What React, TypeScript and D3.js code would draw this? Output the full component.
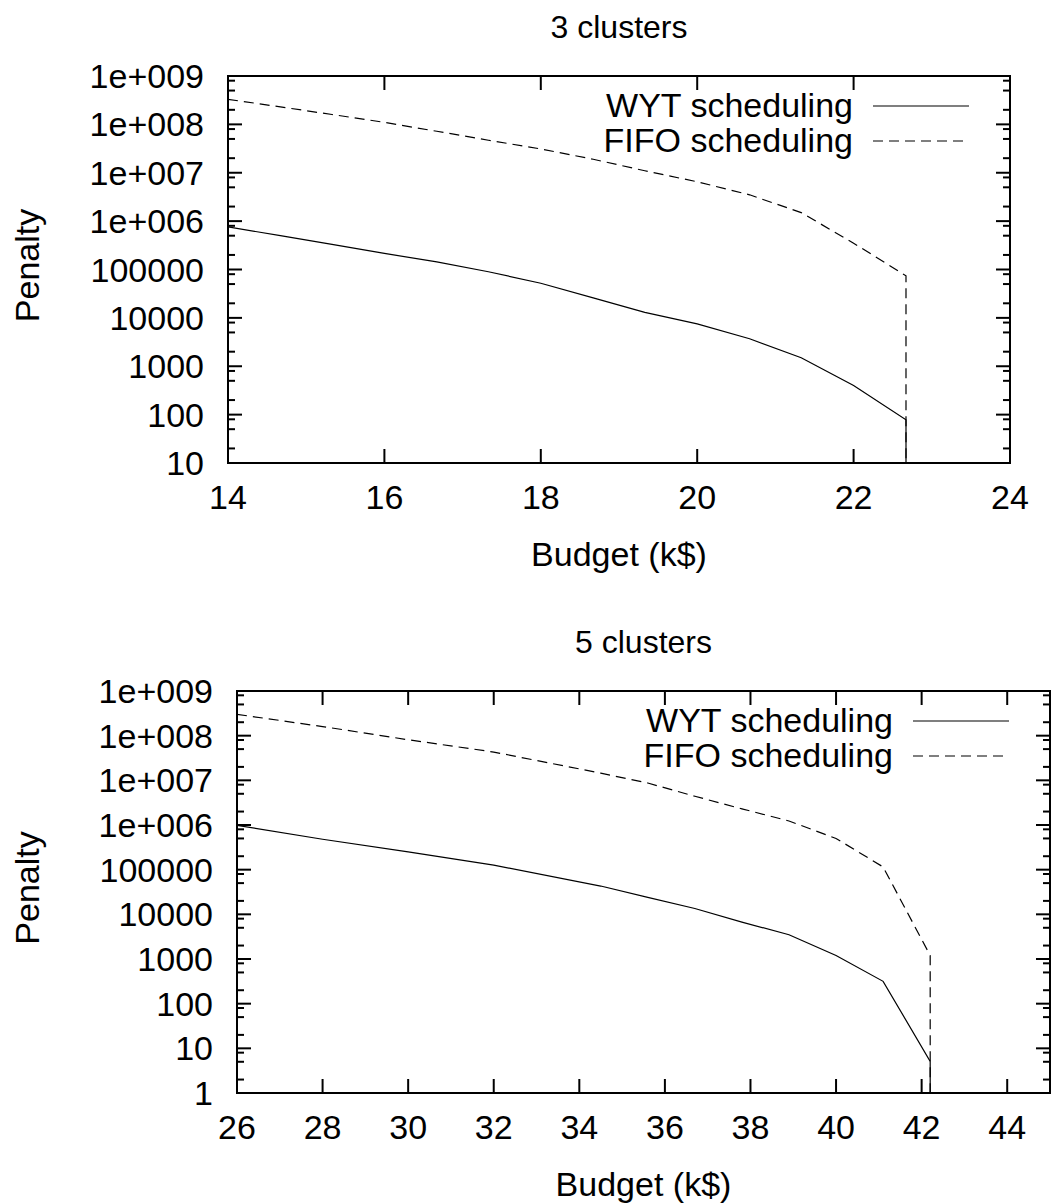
import React, { useEffect, useRef } from 'react';
import * as d3 from 'd3';

// 3 clusters
const budget3 = [14, 14.67, 15.33, 16, 16.67, 17.33, 18, 18.67, 19.33, 20, 20.67, 21.33, 22, 22.67, 22.67];
const wyt3 = [7.6e5, 5.0e5, 3.3e5, 2.15e5, 1.44e5, 9e4, 5.2e4, 2.6e4, 1.3e4, 7.5e3, 3.7e3, 1.5e3, 400, 78, 1];
const fifo3 = [3.3e8, 2.3e8, 1.6e8, 1.1e8, 7.2e7, 4.7e7, 3.1e7, 1.9e7, 1.1e7, 6.5e6, 3.5e6, 1.5e6, 3.5e5, 7.4e4, 1];
const xTicks3 = [14, 16, 18, 20, 22, 24];
const yTicks3 = [10, 100, 1000, 1e4, 1e5, 1e6, 1e7, 1e8, 1e9];
const yLabels3 = ['10', '100', '1000', '10000', '100000', '1e+006', '1e+007', '1e+008', '1e+009'];

// 5 clusters
const budget5 = [26, 28, 30, 32, 34.5, 35.6, 36.7, 37.8, 38.9, 40, 41.1, 42.2, 42.2];
const wyt5 = [9.8e5, 4.8e5, 2.5e5, 1.26e5, 4.3e4, 2.4e4, 1.35e4, 6.7e3, 3.5e3, 1.2e3, 316, 5.1, 0.1];
const fifo5 = [3.0e8, 1.6e8, 8.1e7, 4.3e7, 1.45e7, 8.7e6, 4.4e6, 2.3e6, 1.23e6, 5e5, 1.15e5, 1.2e3, 0.1];
const xTicks5 = [26, 28, 30, 32, 34, 36, 38, 40, 42, 44];
const yTicks5 = [1, 10, 100, 1000, 1e4, 1e5, 1e6, 1e7, 1e8, 1e9];
const yLabels5 = ['1', '10', '100', '1000', '10000', '100000', '1e+006', '1e+007', '1e+008', '1e+009'];

const minorMult = [2, 5, 8];
const seriesNames = ['WYT scheduling', 'FIFO scheduling'];
const FONT = '"Liberation Sans", Arial, Helvetica, sans-serif';

function drawPanel(g, o) {
  const { left, right, top, bottom, xDomain, yDomain, xs, series, xTicks, yTicks, yLabels, title, id } = o;
  const x = d3.scaleLinear().domain(xDomain).range([left, right]);
  const y = d3.scaleLog().domain(yDomain).range([bottom, top]);

  g.append('clipPath').attr('id', id)
    .append('rect').attr('x', left).attr('y', top).attr('width', right - left).attr('height', bottom - top);

  // minor ticks: 2, 5, 8 in each decade
  const minors = [];
  yTicks.slice(0, -1).forEach(t => minorMult.forEach(m => minors.push(t * m)));

  const tk = g.append('g').attr('stroke', '#000').attr('stroke-width', 2);
  yTicks.forEach(t => {
    tk.append('line').attr('x1', left).attr('x2', left + 14).attr('y1', y(t)).attr('y2', y(t));
    tk.append('line').attr('x1', right).attr('x2', right - 14).attr('y1', y(t)).attr('y2', y(t));
  });
  minors.forEach(t => {
    tk.append('line').attr('x1', left).attr('x2', left + 7).attr('y1', y(t)).attr('y2', y(t));
    tk.append('line').attr('x1', right).attr('x2', right - 7).attr('y1', y(t)).attr('y2', y(t));
  });
  xTicks.forEach(t => {
    tk.append('line').attr('x1', x(t)).attr('x2', x(t)).attr('y1', bottom).attr('y2', bottom - 14);
    tk.append('line').attr('x1', x(t)).attr('x2', x(t)).attr('y1', top).attr('y2', top + 14);
  });

  const txt = g.append('g').attr('font-family', FONT).attr('font-size', 34).attr('fill', '#000');
  yTicks.forEach((t, i) => {
    txt.append('text').attr('x', left - 24).attr('y', y(t) + 12).attr('text-anchor', 'end').text(yLabels[i]);
  });
  xTicks.forEach(t => {
    txt.append('text').attr('x', x(t)).attr('y', bottom + 46).attr('text-anchor', 'middle').text(t);
  });
  txt.append('text').attr('x', (left + right) / 2).attr('y', bottom + 103).attr('text-anchor', 'middle').text('Budget (k$)');
  txt.append('text').attr('x', (left + right) / 2).attr('y', top - 38).attr('text-anchor', 'middle')
    .attr('font-size', 32).text(title);
  txt.append('text').attr('transform', `translate(39,${(top + bottom) / 2 - 4}) rotate(-90)`)
    .attr('text-anchor', 'middle').text('Penalty');

  const line = d3.line().x((d, i) => x(xs[i])).y(d => y(d));
  series.forEach((s, k) => {
    g.append('path').datum(s).attr('clip-path', `url(#${id})`)
      .attr('fill', 'none').attr('stroke', '#000').attr('stroke-width', 1.2)
      .attr('stroke-dasharray', k === 1 ? '10,6' : null)
      .attr('d', line);
  });

  // legend
  seriesNames.forEach((name, k) => {
    const by = top + 41 + k * 35;
    txt.append('text').attr('x', right - 157).attr('y', by).attr('text-anchor', 'end').text(name);
    g.append('line').attr('x1', right - 137).attr('x2', right - 41)
      .attr('y1', by - 11).attr('y2', by - 11)
      .attr('stroke', '#000').attr('stroke-width', 1.2)
      .attr('stroke-dasharray', k === 1 ? '10,6' : null);
  });

  g.append('rect').attr('x', left).attr('y', top).attr('width', right - left).attr('height', bottom - top)
    .attr('fill', 'none').attr('stroke', '#000').attr('stroke-width', 2);
}

const App = () => {
  const ref = useRef(null);

  useEffect(() => {
    const svg = d3.select(ref.current);
    svg.selectAll('*').remove();
    svg.append('rect').attr('width', 1053).attr('height', 1203).attr('fill', '#fff');

    drawPanel(svg.append('g'), {
      id: 'clip3', left: 228, right: 1010, top: 76, bottom: 463,
      xDomain: [14, 24], yDomain: [10, 1e9], xs: budget3, series: [wyt3, fifo3],
      xTicks: xTicks3, yTicks: yTicks3, yLabels: yLabels3, title: '3 clusters'
    });
    drawPanel(svg.append('g'), {
      id: 'clip5', left: 237, right: 1050, top: 691, bottom: 1093,
      xDomain: [26, 45], yDomain: [1, 1e9], xs: budget5, series: [wyt5, fifo5],
      xTicks: xTicks5, yTicks: yTicks5, yLabels: yLabels5, title: '5 clusters'
    });
  }, []);

  return (
    <svg ref={ref} width={1053} height={1203}
      style={{ position: 'absolute', left: 0, top: 0, display: 'block' }} />
  );
};

export default App;
